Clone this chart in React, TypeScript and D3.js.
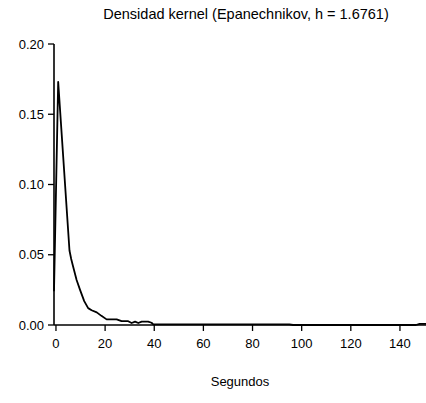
import React from "react";
import * as d3 from "d3";

const xs = [-0.8, 0.9, 5.5, 6.2, 7.0, 8.4, 9.8, 11.5, 13.1, 14.5, 16.6, 18.5, 20.6, 24.7, 26.7, 29.4, 30.8, 32.2, 33.5, 34.9, 37.5, 38.9, 39.6, 95, 96.5, 146.5, 148, 150.6];
const ys = [0.024, 0.173, 0.053, 0.047, 0.0415, 0.032, 0.025, 0.017, 0.012, 0.0105, 0.009, 0.0065, 0.004, 0.004, 0.0027, 0.0027, 0.0014, 0.0024, 0.0014, 0.0024, 0.0024, 0.0016, 0.0005, 0.0005, 0.0, 0.0, 0.0008, 0.0008];
const xTicks = [0, 20, 40, 60, 80, 100, 120, 140];
const yTicks = [0, 0.05, 0.1, 0.15, 0.2];
const title = "Densidad kernel (Epanechnikov, h = 1.6761)";
const xLabel = "Segundos";

export default function App() {
  const W = 426, H = 403;
  const x = d3.scaleLinear().domain([-0.8, 150.6]).range([54, 426]);
  const y = d3.scaleLinear().domain([0, 0.2]).range([325, 44]);
  const line = d3.line<number>().x((_, i) => x(xs[i])).y((d) => y(d));
  const font = "Liberation Sans, Arial, sans-serif";
  return (
    <svg width={W} height={H} style={{ position: "absolute", left: 0, top: 0, background: "#fff" }}>
      <rect width={W} height={H} fill="#fff" />
      <text x={246} y={19} textAnchor="middle" fontFamily={font} fontSize={14.5} fill="#000">{title}</text>
      <line x1={x.range()[0]} x2={x.range()[0]} y1={y(0.2)} y2={y(0)} stroke="#000" strokeWidth={1.6} />
      {yTicks.map((t) => (
        <g key={t}>
          <line x1={48} x2={54} y1={y(t)} y2={y(t)} stroke="#000" strokeWidth={1.3} />
          <text x={44} y={y(t)} dy="0.35em" textAnchor="end" fontFamily={font} fontSize={13} fill="#000">{t.toFixed(2)}</text>
        </g>
      ))}
      <line x1={54} x2={426} y1={y(0)} y2={y(0)} stroke="#000" strokeWidth={1.6} />
      {xTicks.map((t) => (
        <g key={t}>
          <line x1={x(t)} x2={x(t)} y1={y(0)} y2={y(0) + 6} stroke="#000" strokeWidth={1.3} />
          <text x={x(t)} y={348} textAnchor="middle" fontFamily={font} fontSize={13} fill="#000">{t}</text>
        </g>
      ))}
      <text x={240} y={386} textAnchor="middle" fontFamily={font} fontSize={13} fill="#000">{xLabel}</text>
      <path d={line(ys) || ""} fill="none" stroke="#000" strokeWidth={1.8} strokeLinejoin="round" />
    </svg>
  );
}
